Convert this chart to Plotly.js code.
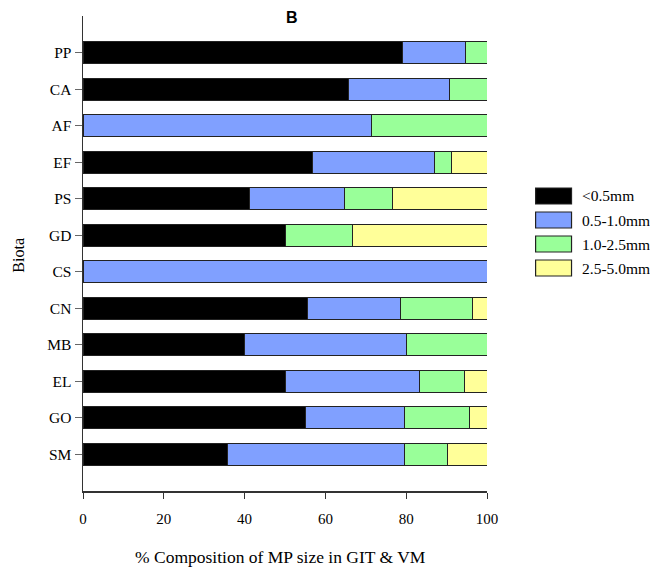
<!DOCTYPE html>
<html>
<head>
<meta charset="utf-8">
<script src="https://cdn.plot.ly/plotly-3.0.1.min.js"></script>
<style>
  html, body { margin: 0; padding: 0; background: #fff; }
  #chart { width: 650px; height: 571px; }
</style>
</head>
<body>
<div id="chart"></div>
<script>
// Biota groups, top to bottom
const biota = ['PP', 'CA', 'AF', 'EF', 'PS', 'GD', 'CS', 'CN', 'MB', 'EL', 'GO', 'SM'];

// % composition of microplastic size classes in GIT & VM
const sizeLt05   = [79.1, 65.7, 0,    56.7, 41.3, 50.0, 0,   55.5, 40.0, 50.0, 55.0, 35.8];
const size05to10 = [15.5, 25.0, 71.4, 30.3, 23.4, 0,    100, 23.1, 40.0, 33.3, 24.5, 43.8];
const size10to25 = [5.4,  9.3,  28.6, 4.3,  11.8, 16.7, 0,   17.8, 20.0, 11.1, 16.2, 10.6];
const size25to50 = [0,    0,    0,    8.7,  23.5, 33.3, 0,   3.6,  0,    5.6,  4.3,  9.8];

const seriesNames  = ['<0.5mm', '0.5-1.0mm', '1.0-2.5mm', '2.5-5.0mm'];
const seriesValues = [sizeLt05, size05to10, size10to25, size25to50];
const seriesColors = ['#000000', '#80a0ff', '#99ff99', '#ffff99'];

const xTicks = [0, 20, 40, 60, 80, 100];

const serif = 'Liberation Serif, Times New Roman, serif';

const traces = seriesValues.map((vals, i) => ({
  type: 'bar',
  orientation: 'h',
  name: seriesNames[i],
  y: biota,
  x: vals,
  marker: { color: seriesColors[i], line: { color: '#222', width: 1 } },
  showlegend: false,
  hoverinfo: 'x+y+name'
}));

// Legend drawn as swatches + labels to the right of the plot
const shapes = [];
const annotations = [];
const legendTop = 196;      // px centre of first item
const legendStep = 24;
const plotTop = 16, plotBottom = 491, plotLeft = 82.5, plotRight = 487.3;
const pxToPaperX = px => (px - plotLeft) / (plotRight - plotLeft);
const pxToPaperY = py => (plotBottom - py) / (plotBottom - plotTop);

seriesNames.forEach((name, i) => {
  const cy = legendTop + i * legendStep;
  shapes.push({
    type: 'rect', xref: 'paper', yref: 'paper',
    x0: pxToPaperX(536), x1: pxToPaperX(572),
    y0: pxToPaperY(cy + 8), y1: pxToPaperY(cy - 8),
    fillcolor: seriesColors[i], line: { color: '#222', width: 1.2 }
  });
  annotations.push({
    xref: 'paper', yref: 'paper',
    x: pxToPaperX(580), y: pxToPaperY(cy),
    xanchor: 'left', yanchor: 'middle', showarrow: false,
    text: name.replace('<', '&lt;'),
    font: { family: serif, size: 15.5, color: '#000' }
  });
});

// Panel letter
annotations.push({
  xref: 'paper', yref: 'paper',
  x: pxToPaperX(292), y: pxToPaperY(18),
  xanchor: 'center', yanchor: 'middle', showarrow: false,
  text: '<b>B</b>',
  font: { family: 'Liberation Sans, Arial, sans-serif', size: 16, color: '#000' }
});

// Axis titles
annotations.push({
  xref: 'paper', yref: 'paper',
  x: pxToPaperX(280.5), y: pxToPaperY(557),
  xanchor: 'center', yanchor: 'middle', showarrow: false,
  text: '% Composition of MP size in GIT &amp; VM',
  font: { family: serif, size: 17.5, color: '#000' }
});
annotations.push({
  xref: 'paper', yref: 'paper',
  x: pxToPaperX(18), y: pxToPaperY(255),
  xanchor: 'center', yanchor: 'middle', showarrow: false,
  textangle: -90,
  text: 'Biota',
  font: { family: serif, size: 16, color: '#000' }
});

const layout = {
  width: 650,
  height: 571,
  paper_bgcolor: '#fff',
  plot_bgcolor: '#fff',
  margin: { l: plotLeft, r: 650 - plotRight, t: plotTop, b: 571 - plotBottom, pad: 0 },
  barmode: 'stack',
  bargap: 0.4,
  showlegend: false,
  xaxis: {
    range: [0, 100],
    tickvals: xTicks,
    ticktext: xTicks.map(String),
    showgrid: false,
    zeroline: false,
    showline: true,
    linecolor: '#333',
    linewidth: 1.5,
    ticks: 'outside',
    ticklen: 6,
    tickcolor: '#333',
    ticklabelstandoff: 7,
    tickfont: { family: serif, size: 15, color: '#000' },
    fixedrange: true
  },
  yaxis: {
    type: 'category',
    categoryorder: 'array',
    categoryarray: biota.slice().reverse(),
    range: [-1, biota.length],
    showgrid: false,
    zeroline: false,
    showline: true,
    linecolor: '#333',
    linewidth: 1.5,
    ticks: 'outside',
    ticklen: 7,
    tickcolor: '#666',
    tickfont: { family: serif, size: 15.5, color: '#000' },
    fixedrange: true
  },
  shapes: shapes,
  annotations: annotations
};

Plotly.newPlot('chart', traces, layout, { displayModeBar: false, staticPlot: true });
</script>
</body>
</html>
